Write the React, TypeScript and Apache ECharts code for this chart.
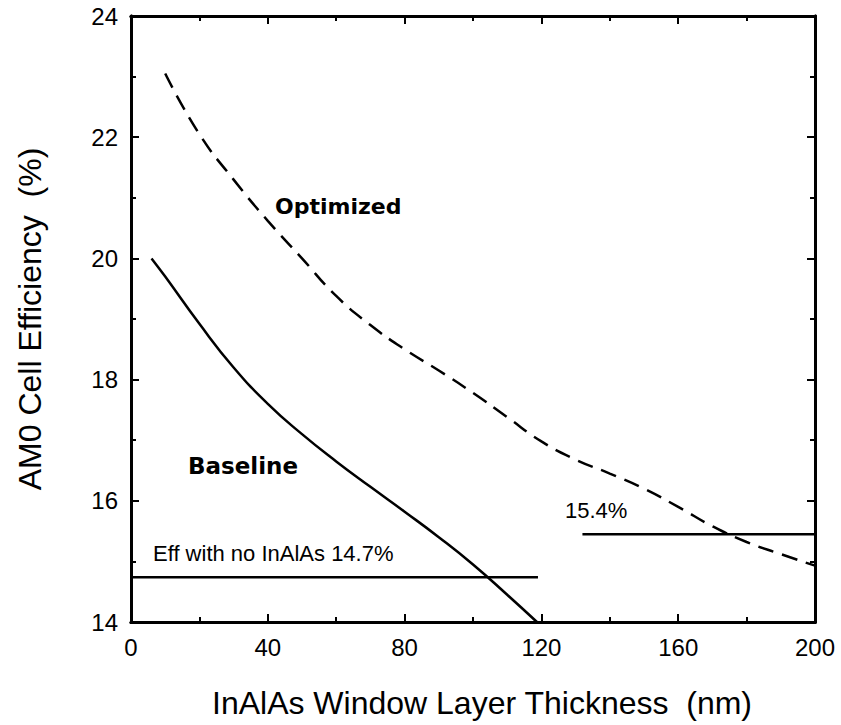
import React, { useEffect, useRef } from "react";
import * as echarts from "echarts";

// Data
const optimizedX = [10, 20, 30, 40, 50, 60, 70, 80, 90, 100, 110, 120, 130, 140, 150, 160, 170, 180, 190, 200];
const optimizedY = [23.05, 22.05, 21.3, 20.62, 20.0, 19.38, 18.9, 18.5, 18.15, 17.78, 17.38, 16.98, 16.68, 16.45, 16.2, 15.9, 15.58, 15.32, 15.12, 14.93];

const baselineX = [6, 10, 20, 30, 40, 50, 60, 70, 80, 90, 100, 110, 118.7];
const baselineY = [20.0, 19.7, 18.92, 18.2, 17.6, 17.1, 16.65, 16.23, 15.82, 15.4, 14.95, 14.45, 14.0];

const noInAlAsX = [0, 119];
const noInAlAsY = [14.74, 14.74];

const optRefX = [132, 200];
const optRefY = [15.45, 15.45];

// Axis ranges (major every 40 / 2, minor ticks halfway)
const xRange = { min: 0, max: 200, interval: 40 };
const yRange = { min: 14, max: 24, interval: 2 };

const labels = {
  xTitle: "InAlAs Window Layer Thickness  (nm)",
  yTitle: "AM0 Cell Efficiency  (%)",
  optimized: "Optimized",
  baseline: "Baseline",
  noInAlAs: "Eff with no InAlAs 14.7%",
  optRef: "15.4%",
};

const zip = (xs: number[], ys: number[]) => xs.map((x, i) => [x, ys[i]]);

const GRID = { left: 131, top: 16, right: 26, bottom: 103 };
const FONT = "'Liberation Sans', Arial, Helvetica, sans-serif";

const mkLine = () => ({ show: true, onZero: false, lineStyle: { color: "#000", width: 3 } });
const mkTick = () => ({ show: true, inside: true, length: 8, lineStyle: { color: "#000", width: 2 } });
const mkMinor = () => ({ show: true, splitNumber: 2, length: 5, lineStyle: { color: "#000", width: 2 } });

export default function App() {
  const ref = useRef<HTMLDivElement>(null);
  const tickRef = useRef<HTMLDivElement>(null);

  useEffect(() => {
    document.body.style.margin = "0";
    if (!ref.current || !tickRef.current) return;
    const chart = echarts.init(ref.current, undefined, { renderer: "svg" });
    const lineStyleSolid = { color: "#000", width: 2.5 };

    const annot = (text: string, left: number, top: number, fontSize: number, bold: boolean, family: string) => ({
      text,
      left,
      top,
      padding: 0,
      textStyle: { color: "#000", fontSize, fontWeight: bold ? "bold" : "normal", fontFamily: family },
    });

    chart.setOption({
      animation: false,
      backgroundColor: "#fff",
      grid: GRID,
      title: [
        annot(labels.optimized, 275, 195, 22, true, "'DejaVu Sans', sans-serif"),
        annot(labels.baseline, 188, 454, 23, true, "'DejaVu Sans', sans-serif"),
        annot(labels.noInAlAs, 153, 542, 22, false, FONT),
        annot(labels.optRef, 565, 499, 22, false, FONT),
      ],
      xAxis: [
        {
          type: "value",
          position: "bottom",
          ...xRange,
          axisLine: mkLine(),
          axisTick: mkTick(),
          minorTick: mkMinor(),
          splitLine: { show: false },
          minorSplitLine: { show: false },
          axisLabel: { color: "#000", fontSize: 24, fontFamily: FONT, margin: 13 },
          name: labels.xTitle,
          nameLocation: "middle",
          nameGap: 65,
          nameTextStyle: { color: "#000", fontSize: 32, fontFamily: FONT, padding: [0, 0, 0, 18] },
        },
        {
          type: "value",
          position: "top",
          ...xRange,
          axisLine: mkLine(),
          axisTick: mkTick(),
          minorTick: mkMinor(),
          splitLine: { show: false },
          minorSplitLine: { show: false },
          axisLabel: { show: false },
        },
      ],
      yAxis: [
        {
          type: "value",
          position: "left",
          ...yRange,
          axisLine: mkLine(),
          axisTick: mkTick(),
          minorTick: mkMinor(),
          splitLine: { show: false },
          minorSplitLine: { show: false },
          axisLabel: { color: "#000", fontSize: 24, fontFamily: FONT, margin: 13 },
          name: labels.yTitle,
          nameLocation: "middle",
          nameGap: 85,
          nameTextStyle: { color: "#000", fontSize: 32, fontFamily: FONT },
        },
        {
          type: "value",
          position: "right",
          ...yRange,
          axisLine: mkLine(),
          axisTick: mkTick(),
          minorTick: mkMinor(),
          splitLine: { show: false },
          minorSplitLine: { show: false },
          axisLabel: { show: false },
        },
      ],
      series: [
        {
          type: "line",
          data: zip(optimizedX, optimizedY),
          smooth: 0.5,
          showSymbol: false,
          lineStyle: { color: "#000", width: 2.5, type: [16, 9] },
        },
        {
          type: "line",
          data: zip(baselineX, baselineY),
          smooth: 0.5,
          showSymbol: false,
          lineStyle: lineStyleSolid,
        },
        {
          type: "line",
          data: zip(noInAlAsX, noInAlAsY),
          showSymbol: false,
          lineStyle: lineStyleSolid,
        },
        {
          type: "line",
          data: zip(optRefX, optRefY),
          showSymbol: false,
          lineStyle: lineStyleSolid,
        },
      ],
    });

    // Overlay instance holding only the frame and its tick marks (same grid and scales)
    const ticks = echarts.init(tickRef.current, undefined, { renderer: "svg" });
    const tickAxis = (position: string, range: any) => ({
      type: "value",
      position,
      ...range,
      axisLine: mkLine(),
      axisTick: mkTick(),
      minorTick: mkMinor(),
      splitLine: { show: false },
      minorSplitLine: { show: false },
      axisLabel: { show: false },
    });
    ticks.setOption({
      animation: false,
      grid: GRID,
      xAxis: [tickAxis("bottom", xRange), tickAxis("top", xRange)],
      yAxis: [tickAxis("left", yRange), tickAxis("right", yRange)],
      series: [],
    });

    return () => {
      chart.dispose();
      ticks.dispose();
    };
  }, []);

  return (
    <div style={{ position: "relative", width: 841, height: 725 }}>
      <div ref={ref} style={{ position: "absolute", left: 0, top: 0, width: 841, height: 725 }} />
      <div ref={tickRef} style={{ position: "absolute", left: 0, top: 0, width: 841, height: 725, pointerEvents: "none" }} />
    </div>
  );
}
